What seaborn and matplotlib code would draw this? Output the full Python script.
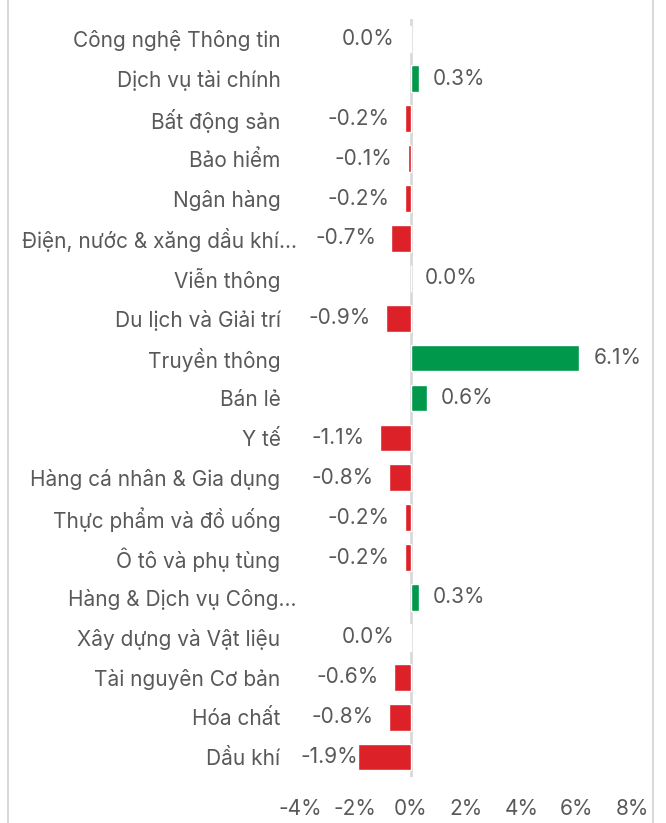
import pandas as pd
import seaborn as sns
import matplotlib.pyplot as plt
import matplotlib.transforms as mtransforms
from matplotlib.lines import Line2D
from matplotlib.ticker import FuncFormatter

sectors = ['Công nghệ Thông tin', 'Dịch vụ tài chính', 'Bất động sản', 'Bảo hiểm',
           'Ngân hàng', 'Điện, nước & xăng dầu khí...', 'Viễn thông', 'Du lịch và Giải trí',
           'Truyền thông', 'Bán lẻ', 'Y tế', 'Hàng cá nhân & Gia dụng',
           'Thực phẩm và đồ uống', 'Ô tô và phụ tùng', 'Hàng & Dịch vụ Công...',
           'Xây dựng và Vật liệu', 'Tài nguyên Cơ bản', 'Hóa chất', 'Dầu khí']
change = [-0.03, 0.3, -0.2, -0.1, -0.2, -0.7, 0.0, -0.9, 6.1, 0.6, -1.1, -0.8,
          -0.2, -0.2, 0.3, -0.03, -0.6, -0.8, -1.9]

df = pd.DataFrame({'sector': sectors, 'change': change})
df['sign'] = ['up' if v >= 0 else 'down' for v in df['change']]

sns.set_style('white')
plt.rcParams['font.family'] = ['Inter', 'DejaVu Sans']
txt = '#595959'
fs = 15

fig = plt.figure(figsize=(6.66, 8.23), dpi=100)
ax = fig.add_axes([0.4505, 0.0559, 0.4985, 0.921])

sns.barplot(data=df, x='change', y='sector', hue='sign', orient='h',
            palette={'up': '#00984A', 'down': '#DC2128'}, dodge=False,
            width=0.67, legend=False, ax=ax, saturation=1)
ax.axvline(0, color='#d9d9d9', lw=2, zorder=0.5)

ax.set_xlim(-4, 8)
ax.set_xticks(range(-4, 9, 2))
ax.xaxis.set_major_formatter(FuncFormatter(lambda x, p: f'{int(x)}%'))
ax.set_xlabel('')
ax.set_ylabel('')
sns.despine(ax=ax, left=True, bottom=True)
ax.tick_params(axis='both', length=0, colors=txt, labelsize=fs)
ax.tick_params(axis='y', pad=14)
ax.tick_params(axis='x', pad=16)

# truncated names sit a bit further right, like in the source chart
shift = mtransforms.ScaledTranslation(16 / 100, 0, fig.dpi_scale_trans)
for lab in ax.get_yticklabels():
    if lab.get_text().endswith('...'):
        lab.set_transform(lab.get_transform() + shift)

fig.canvas.draw()
rend = fig.canvas.get_renderer()
for i, v in enumerate(df['change']):
    s = f'{v:.1f}%'
    if s == '-0.0%':
        s = '0.0%'
    if v >= 0:
        ax.annotate(s, (v, i), xytext=(10, 0), textcoords='offset points',
                    ha='left', va='center', color=txt, fontsize=fs)
    else:
        t = ax.annotate(s, (v, i), xytext=(-11, 0), textcoords='offset points',
                        ha='right', va='center', color=txt, fontsize=fs)
        bb = t.get_window_extent(rend)
        left = ax.transData.transform((-4, 0))[0]
        if bb.x0 < left:
            t.remove()
            ax.text(-4, i, s, ha='left', va='center', color=txt, fontsize=fs)

for xf in (8 / 666, 653 / 666):
    fig.add_artist(Line2D([xf, xf], [0, 1], transform=fig.transFigure,
                          color='#d9d9d9', lw=1.5))

fig.savefig('out.png', dpi=100)
